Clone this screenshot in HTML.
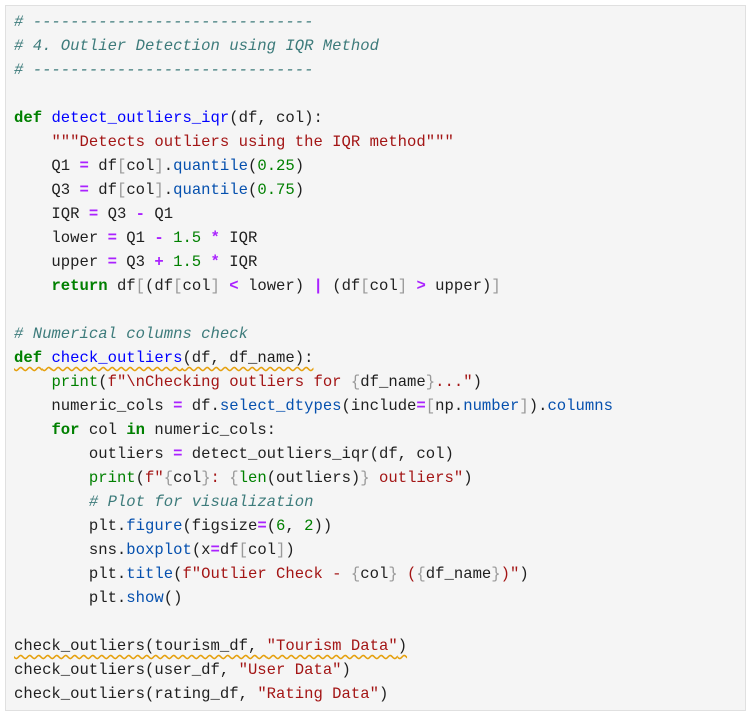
<!DOCTYPE html><html><head><style>
body{margin:0;background:#fff;width:752px;height:722px;overflow:hidden}
.box{position:absolute;left:5px;top:5px;width:739px;height:704px;background:#f5f5f5;border:1px solid #e0e0e0}
pre{position:absolute;left:14px;top:10px;margin:0;font-family:"Liberation Mono",monospace;font-size:15.6px;line-height:24px;color:#1f1f1f}
.c{color:#3d7b7b;font-style:italic}.k{color:#008000;font-weight:bold}.f{color:#0000ff}.s{color:#a31515}
.o{color:#aa22ff;font-weight:bold}.n{color:#008000}.b{color:#999}.m{color:#0550ae}.bi{color:#008000}.p{color:#a31515}
.w{text-decoration:underline wavy #e5a00d;text-underline-offset:4px}
</style></head><body><div class="box"></div><pre><span class="c"># ------------------------------
# 4. Outlier Detection using IQR Method
# ------------------------------</span>

<span class="k">def</span> <span class="f">detect_outliers_iqr</span>(df, col):
    <span class="s">"""Detects outliers using the IQR method"""</span>
    Q1 <span class="o">=</span> df<span class="b">[</span>col<span class="b">]</span>.<span class="m">quantile</span>(<span class="n">0.25</span>)
    Q3 <span class="o">=</span> df<span class="b">[</span>col<span class="b">]</span>.<span class="m">quantile</span>(<span class="n">0.75</span>)
    IQR <span class="o">=</span> Q3 <span class="o">-</span> Q1
    lower <span class="o">=</span> Q1 <span class="o">-</span> <span class="n">1.5</span> <span class="o">*</span> IQR
    upper <span class="o">=</span> Q3 <span class="o">+</span> <span class="n">1.5</span> <span class="o">*</span> IQR
    <span class="k">return</span> df<span class="b">[</span>(df<span class="b">[</span>col<span class="b">]</span> <span class="o">&lt;</span> lower) <span class="o">|</span> (df<span class="b">[</span>col<span class="b">]</span> <span class="o">&gt;</span> upper)<span class="b">]</span>

<span class="c"># Numerical columns check</span>
<span class="w"><span class="k">def</span> <span class="f">check_outliers</span>(df, df_name):</span>
    <span class="bi">print</span>(<span class="p">f"\nChecking outliers for </span><span class="b">{</span>df_name<span class="b">}</span><span class="p">..."</span>)
    numeric_cols <span class="o">=</span> df.<span class="m">select_dtypes</span>(include<span class="o">=</span><span class="b">[</span>np.<span class="m">number</span><span class="b">]</span>).<span class="m">columns</span>
    <span class="k">for</span> col <span class="k">in</span> numeric_cols:
        outliers <span class="o">=</span> detect_outliers_iqr(df, col)
        <span class="bi">print</span>(<span class="p">f"</span><span class="b">{</span>col<span class="b">}</span><span class="p">: </span><span class="b">{</span><span class="bi">len</span>(outliers)<span class="b">}</span><span class="p"> outliers"</span>)
        <span class="c"># Plot for visualization</span>
        plt.<span class="m">figure</span>(figsize<span class="o">=</span>(<span class="n">6</span>, <span class="n">2</span>))
        sns.<span class="m">boxplot</span>(x<span class="o">=</span>df<span class="b">[</span>col<span class="b">]</span>)
        plt.<span class="m">title</span>(<span class="p">f"Outlier Check - </span><span class="b">{</span>col<span class="b">}</span><span class="p"> (</span><span class="b">{</span>df_name<span class="b">}</span><span class="p">)"</span>)
        plt.<span class="m">show</span>()

<span class="w">check_outliers(tourism_df, <span class="s">"Tourism Data"</span>)</span>
check_outliers(user_df, <span class="s">"User Data"</span>)
check_outliers(rating_df, <span class="s">"Rating Data"</span>)</pre></body></html>
